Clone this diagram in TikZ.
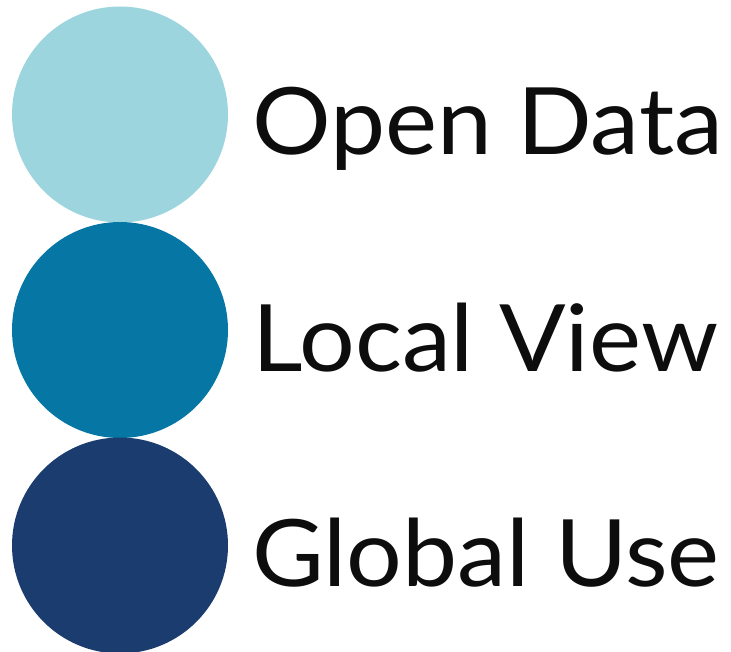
\documentclass[tikz,border=0pt]{standalone}
\usepackage{fontspec}
\setmainfont{Lato}
\definecolor{cLight}{HTML}{9DD5DF}
\definecolor{cMid}{HTML}{0677A4}
\definecolor{cDark}{HTML}{1B3C6E}
\definecolor{cText}{HTML}{0D0D0D}
\newcommand{\wideTxt}[1]{\scalebox{1.058}[1]{#1}}
\begin{document}
\begin{tikzpicture}[x=1pt,y=-1pt,
  dot/.style={circle,inner sep=0pt,minimum size=216pt},
  lbl/.style={anchor=base west,inner sep=0pt,text=cText,font=\fontsize{93}{100}\selectfont}]
\useasboundingbox (0,0) rectangle (731,652);
\node[dot,fill=cLight] (c1) at (120,114.5) {};
\node[dot,fill=cMid] (c2) at (120,330) {};
\node[dot,fill=cDark] (c3) at (120,545.5) {};
\node[lbl] (t1) at (252,155) {\wideTxt{Open Data}};
\node[lbl] (t2) at (252,371) {\wideTxt{Local View}};
\node[lbl] (t3) at (252,586) {\wideTxt{Global Use}};
\end{tikzpicture}
\end{document}
